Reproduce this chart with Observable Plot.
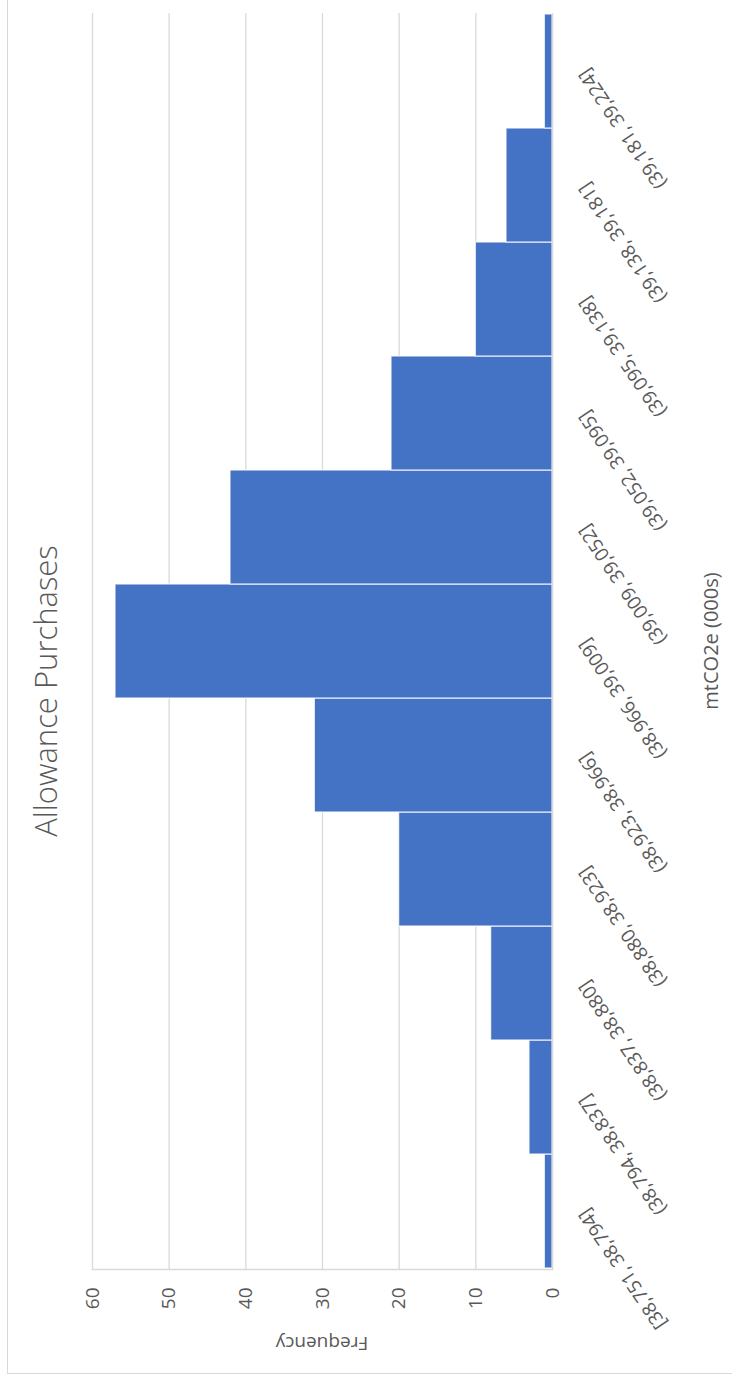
<!DOCTYPE html>
<html>
<head>
<meta charset="utf-8">
<script src="https://cdn.jsdelivr.net/npm/d3@7"></script>
<script src="https://cdn.jsdelivr.net/npm/@observablehq/plot@0.6"></script>
<style>
  html, body { margin: 0; padding: 0; background: #ffffff; }
  #page { position: relative; width: 732px; height: 1381px; overflow: hidden; background: #ffffff; }
  #chart {
    position: absolute; left: 0; top: 0; width: 1381px; height: 732px;
    transform-origin: 0 0; transform: translateY(1381px) rotate(-90deg);
    font-family: "Open Sans", "Noto Sans", sans-serif; color: #595959;
  }
  #area { position: absolute; left: 7px; top: 7px; width: 1600px; height: 1000px; border: 1.4px solid #d9d9d9; box-sizing: border-box; }
  #plot { position: absolute; left: 0; top: 0; }
  .lbl { position: absolute; white-space: nowrap; color: #595959; line-height: 1; }
  #title { left: 690px; top: 45px; font-size: 31px; font-weight: 300; transform: translate(-50%, -50%); }
  #ytitle { left: 38px; top: 322px; font-size: 19px; transform: translate(-50%, -50%) rotate(-90deg); }
  #xtitle { left: 740px; top: 711px; font-size: 20px; transform: translate(-50%, -50%); }
</style>
</head>
<body>
<div id="page">
  <div id="chart">
    <div id="area"></div>
    <div id="plot"></div>
    <div class="lbl" id="title">Allowance Purchases</div>
    <div class="lbl" id="ytitle">Frequency</div>
    <div class="lbl" id="xtitle">mtCO2e (000s)</div>
  </div>
</div>
<script>
const bins = [
  "[38,751, 38,794]",
  "(38,794, 38,837]",
  "(38,837, 38,880]",
  "(38,880, 38,923]",
  "(38,923, 38,966]",
  "(38,966, 39,009]",
  "(39,009, 39,052]",
  "(39,052, 39,095]",
  "(39,095, 39,138]",
  "(39,138, 39,181]",
  "(39,181, 39,224]"
];
const frequency = [1, 3, 8, 20, 31, 57, 42, 21, 10, 6, 1];
const yTicks = [0, 10, 20, 30, 40, 50, 60];

const data = bins.map((b, i) => ({bin: b, count: frequency[i]}));

const chart = Plot.plot({
  width: 1381,
  height: 732,
  marginLeft: 111,
  marginRight: 13,
  marginTop: 92,
  marginBottom: 180,
  x: {domain: bins, padding: 0, label: null},
  y: {domain: [0, 60], ticks: yTicks, label: null},
  style: {
    fontFamily: '"Open Sans", "Noto Sans", sans-serif',
    fontSize: "19px",
    color: "#595959",
    background: "transparent",
    overflow: "visible"
  },
  marks: [
    Plot.gridY(yTicks, {stroke: "#d9d9d9", strokeOpacity: 1, strokeWidth: 1.3}),
    Plot.frame({anchor: "left", stroke: "#d9d9d9", strokeWidth: 1.3}),
    Plot.barY(data, {x: "bin", y: "count", fill: "#4472C4", stroke: "#ffffff", strokeWidth: 1.2, strokeOpacity: 0.8, inset: 0}),
    Plot.ruleY([0], {stroke: "#d9d9d9", strokeWidth: 1.3}),
    Plot.axisY(yTicks, {tickSize: 0, tickPadding: 18, label: null}),
    Plot.axisX({tickSize: 0, tickPadding: 31, tickRotate: -34, label: null})
  ]
});
document.getElementById("plot").appendChild(chart);
</script>
</body>
</html>
